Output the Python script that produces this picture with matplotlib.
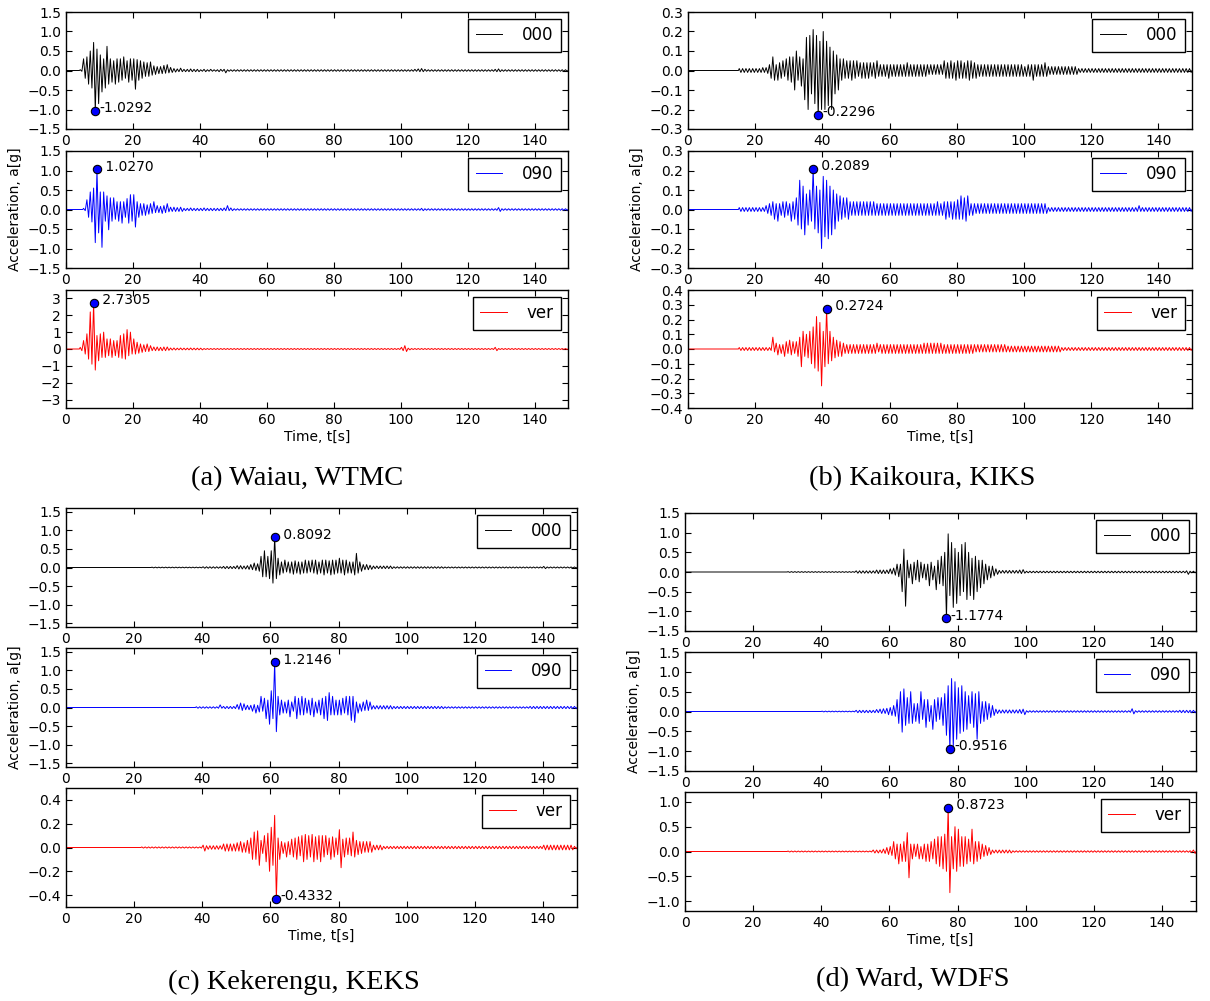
import matplotlib
matplotlib.use("Agg")
import matplotlib.pyplot as plt

# ---------------- data (per-second upper / lower extremes, g) ----------------
# Waiau, WTMC
a_000_t0 = 4
a_000_hi = [0.02, 0.30, 0.35, 0.50, 0.72, 0.55, 0.40, 0.30, 0.62, 0.30,
            0.25, 0.30, 0.30, 0.35, 0.25, 0.30, 0.30, 0.28, 0.25, 0.22,
            0.20, 0.22, 0.12, 0.10, 0.10, 0.13, 0.15, 0.08, 0.05, 0.04,
            0.06, 0.03, 0.03, 0.04, 0.03, 0.03, 0.02, 0.03, 0.02, 0.03,
            0.02, 0.02, 0.03, 0.03] + [0.02] * 56 + [0.03, 0.04, 0.05, 0.03] + [0.02] * 20 + [0.03, 0.04] + [0.02] * 20
a_000_lo = [-0.02, -0.20, -0.35, -0.45, -1.0292, -0.85, -0.55, -0.45, -0.35, -0.30,
            -0.35, -0.30, -0.25, -0.20, -0.30, -0.25, -0.48, -0.25, -0.20, -0.15,
            -0.15, -0.12, -0.10, -0.08, -0.08, -0.07, -0.06, -0.05, -0.04, -0.03,
            -0.03, -0.03, -0.03, -0.03, -0.03, -0.03, -0.02, -0.03, -0.02, -0.02,
            -0.02, -0.03, -0.02, -0.06] + [-0.02] * 56 + [-0.02, -0.03, -0.03, -0.02] + [-0.02] * 20 + [-0.03, -0.03] + [-0.02] * 20

a_090_t0 = 5
a_090_hi = [0.03, 0.25, 0.45, 0.55, 1.0270, 0.45, 0.45, 0.35, 0.30, 0.30,
            0.20, 0.20, 0.20, 0.28, 0.38, 0.38, 0.20, 0.15, 0.15, 0.12,
            0.15, 0.20, 0.10, 0.08, 0.10, 0.15, 0.06, 0.06, 0.05, 0.06,
            0.03, 0.03, 0.04, 0.03, 0.03, 0.03, 0.04, 0.03, 0.03, 0.03, 0.03, 0.03, 0.04,
            0.10, 0.04] + [0.02] * 56 + [0.03, 0.02] + [0.02] * 21 + [0.05] + [0.02] * 20
a_090_lo = [-0.03, -0.20, -0.32, -0.85, -0.60, -0.97, -0.30, -0.52, -0.30, -0.25,
            -0.30, -0.35, -0.20, -0.35, -0.30, -0.45, -0.20, -0.15, -0.15, -0.12,
            -0.10, -0.08, -0.08, -0.10, -0.08, -0.06, -0.05, -0.05, -0.05, -0.05,
            -0.03, -0.03, -0.03, -0.03, -0.03, -0.03, -0.03, -0.03, -0.03, -0.03, -0.03, -0.03, -0.03,
            -0.03, -0.03] + [-0.02] * 56 + [-0.03, -0.02] + [-0.02] * 21 + [-0.05] + [-0.02] * 20

a_ver_t0 = 4
a_ver_hi = [0.10, 0.50, 0.90, 2.20, 2.7305, 0.80, 0.90, 1.00, 0.60, 0.60,
            0.50, 0.50, 0.80, 0.90, 1.15, 1.00, 0.60, 0.40, 0.30, 0.25,
            0.30, 0.20, 0.12, 0.12, 0.10, 0.12, 0.12, 0.06, 0.06, 0.05,
            0.06, 0.05, 0.05, 0.06, 0.05, 0.05, 0.05] + [0.03] * 59 + [0.10, 0.20, 0.05] + [0.03] * 25 + [0.10] + [0.03] * 21
a_ver_lo = [-0.10, -0.30, -0.60, -0.90, -1.25, -0.70, -0.50, -0.50, -0.40, -0.50,
            -0.40, -0.50, -0.55, -0.60, -0.40, -0.30, -0.30, -0.25, -0.20, -0.15,
            -0.15, -0.10, -0.10, -0.10, -0.10, -0.10, -0.08, -0.06, -0.06, -0.05,
            -0.05, -0.05, -0.05, -0.05, -0.05, -0.05, -0.05] + [-0.03] * 59 + [-0.10, -0.15, -0.05] + [-0.03] * 25 + [-0.10] + [-0.03] * 21

# Kaikoura, KIKS
b_000_t0 = 15
b_000_hi = [0.01, 0.01, 0.01, 0.01, 0.01, 0.01, 0.01, 0.015,
            0.015, 0.03, 0.07, 0.03, 0.04, 0.05, 0.06, 0.07, 0.07, 0.10,
            0.07, 0.06, 0.17, 0.18, 0.21, 0.18, 0.15, 0.20, 0.15, 0.12,
            0.10, 0.08, 0.06, 0.06, 0.05, 0.05, 0.05, 0.05, 0.04, 0.04,
            0.04, 0.04, 0.04, 0.05, 0.03, 0.03, 0.03, 0.03, 0.03, 0.03,
            0.03, 0.03, 0.04, 0.03, 0.03, 0.03, 0.03, 0.03, 0.03, 0.03,
            0.03, 0.03, 0.03, 0.05, 0.04, 0.05, 0.04, 0.05, 0.05, 0.04,
            0.05, 0.05, 0.04] + [0.03] * 14 + [0.02, 0.03, 0.03, 0.03, 0.03, 0.03, 0.04] + [0.02] * 9 + [0.01] * 34
b_000_lo = [-0.01, -0.01, -0.01, -0.01, -0.01, -0.01, -0.01, -0.01,
            -0.015, -0.04, -0.05, -0.05, -0.04, -0.03, -0.05, -0.06, -0.10, -0.05,
            -0.08, -0.15, -0.20, -0.12, -0.17, -0.2296, -0.20, -0.20, -0.18, -0.20,
            -0.12, -0.10, -0.05, -0.04, -0.04, -0.05, -0.04, -0.03, -0.04, -0.04,
            -0.04, -0.03, -0.04, -0.03, -0.03, -0.03, -0.04, -0.03, -0.03, -0.03,
            -0.03, -0.03, -0.03, -0.03, -0.03, -0.03, -0.03, -0.03, -0.02, -0.02,
            -0.02, -0.02, -0.02, -0.04, -0.04, -0.04, -0.05, -0.04, -0.04, -0.04,
            -0.05, -0.04, -0.04] + [-0.03] * 14 + [-0.03, -0.03, -0.05, -0.03, -0.03, -0.03, -0.03] + [-0.02] * 9 + [-0.01] * 34

b_090_t0 = 15
b_090_hi = [0.01, 0.01, 0.01, 0.01, 0.01, 0.01, 0.01, 0.01,
            0.02, 0.03, 0.04, 0.03, 0.03, 0.04, 0.04, 0.03, 0.04, 0.06,
            0.15, 0.12, 0.08, 0.10, 0.2089, 0.12, 0.10, 0.17, 0.15, 0.12,
            0.10, 0.08, 0.07, 0.06, 0.06, 0.04, 0.04, 0.04, 0.04, 0.04,
            0.04, 0.04, 0.04, 0.03, 0.03, 0.03, 0.03, 0.03, 0.03, 0.03,
            0.03, 0.03, 0.03, 0.03, 0.03, 0.03, 0.03, 0.03, 0.03, 0.03,
            0.03, 0.04, 0.03, 0.04, 0.04, 0.04, 0.04, 0.05, 0.07, 0.06,
            0.07, 0.03] + [0.03] * 22 + [0.01] * 27 + [0.02] + [0.01] * 15
b_090_lo = [-0.01, -0.01, -0.01, -0.01, -0.01, -0.01, -0.01, -0.01,
            -0.02, -0.03, -0.05, -0.06, -0.03, -0.04, -0.03, -0.06, -0.05, -0.08,
            -0.10, -0.13, -0.08, -0.06, -0.10, -0.12, -0.20, -0.14, -0.15, -0.13,
            -0.10, -0.06, -0.05, -0.04, -0.05, -0.03, -0.03, -0.03, -0.03, -0.03,
            -0.03, -0.03, -0.03, -0.03, -0.03, -0.03, -0.03, -0.03, -0.03, -0.03,
            -0.03, -0.03, -0.03, -0.03, -0.03, -0.03, -0.03, -0.03, -0.03, -0.03,
            -0.03, -0.03, -0.03, -0.05, -0.04, -0.05, -0.05, -0.05, -0.05, -0.06,
            -0.03, -0.03] + [-0.02] * 22 + [-0.01] * 43

b_ver_t0 = 15
b_ver_hi = [0.01] * 10 + [0.08, 0.04, 0.03, 0.03, 0.05, 0.06, 0.05, 0.05, 0.08, 0.12,
            0.10, 0.12, 0.15, 0.22, 0.18, 0.12, 0.2724, 0.12, 0.08, 0.06,
            0.05, 0.04, 0.03] + [0.03] * 8 + [0.04] + [0.03] * 13 + [0.04] * 6 + [0.03] * 9 + [0.03] * 10 + [0.02] * 16 + [0.01] * 39
b_ver_lo = [-0.01] * 10 + [-0.02, -0.04, -0.03, -0.05, -0.03, -0.04, -0.03, -0.05, -0.12, -0.05,
            -0.06, -0.10, -0.13, -0.15, -0.25, -0.12, -0.10, -0.08, -0.06, -0.05,
            -0.05, -0.03, -0.03] + [-0.03] * 8 + [-0.02] + [-0.03] * 13 + [-0.03] * 6 + [-0.03] * 9 + [-0.02] * 10 + [-0.02] * 16 + [-0.01] * 39

# Kekerengu, KEKS
c_000_t0 = 25
c_000_hi = [0.01] * 15 + [0.02] * 6 + [0.03, 0.03, 0.03, 0.03,
            0.05, 0.05, 0.04, 0.05, 0.08, 0.12, 0.10, 0.30, 0.45, 0.30,
            0.45, 0.8092, 0.25, 0.15, 0.20, 0.15, 0.15, 0.18, 0.15, 0.15,
            0.20, 0.18, 0.20, 0.20, 0.15, 0.20, 0.20, 0.18, 0.20, 0.20,
            0.25, 0.20, 0.20, 0.15, 0.15, 0.38, 0.15, 0.08, 0.08, 0.06] + [0.04] * 6 + [0.02] * 15 + [0.015] * 29 + [0.03] + [0.015] * 9
c_000_lo = [-0.01] * 15 + [-0.02] * 6 + [-0.03, -0.03, -0.03, -0.03,
            -0.04, -0.04, -0.04, -0.05, -0.06, -0.08, -0.10, -0.25, -0.25, -0.30,
            -0.42, -0.30, -0.20, -0.15, -0.12, -0.15, -0.18, -0.15, -0.18, -0.15,
            -0.15, -0.12, -0.15, -0.18, -0.15, -0.20, -0.15, -0.20, -0.18, -0.15,
            -0.15, -0.20, -0.15, -0.15, -0.20, -0.15, -0.10, -0.06, -0.06, -0.05] + [-0.03] * 6 + [-0.02] * 15 + [-0.015] * 29 + [-0.03] + [-0.015] * 9

c_090_t0 = 38
c_090_hi = [0.02] * 7 + [0.07, 0.03, 0.03, 0.03, 0.03,
            0.08, 0.12, 0.10, 0.06, 0.06, 0.08, 0.06, 0.30, 0.25, 0.20,
            0.45, 1.2146, 0.30, 0.20, 0.15, 0.20, 0.15, 0.30, 0.25, 0.30,
            0.25, 0.20, 0.25, 0.15, 0.20, 0.25, 0.30, 0.40, 0.30, 0.20,
            0.20, 0.25, 0.30, 0.30, 0.30, 0.15, 0.10, 0.15, 0.20, 0.15] + [0.05] * 6 + [0.03] * 15 + [0.02] * 25 + [0.03] * 14
c_090_lo = [-0.02] * 7 + [-0.02, -0.03, -0.03, -0.03, -0.03,
            -0.05, -0.08, -0.06, -0.06, -0.10, -0.15, -0.12, -0.10, -0.30, -0.45,
            -0.30, -0.65, -0.20, -0.15, -0.15, -0.25, -0.10, -0.30, -0.20, -0.20,
            -0.15, -0.20, -0.25, -0.15, -0.20, -0.30, -0.35, -0.20, -0.20, -0.20,
            -0.20, -0.15, -0.20, -0.35, -0.40, -0.15, -0.10, -0.08, -0.08, -0.05] + [-0.04] * 6 + [-0.03] * 15 + [-0.02] * 25 + [-0.03] * 14

c_ver_t0 = 22
c_ver_hi = [0.005] * 18 + [0.02] + [0.015] * 5 + [0.03] * 4 + [
            0.04, 0.05, 0.04, 0.06, 0.08, 0.13, 0.14, 0.06, 0.10, 0.12,
            0.17, 0.27, 0.08, 0.05, 0.04, 0.05, 0.07, 0.08, 0.09, 0.10,
            0.11, 0.10, 0.11, 0.09, 0.10, 0.10, 0.10, 0.08, 0.09, 0.08,
            0.15, 0.07, 0.08, 0.08, 0.13, 0.06, 0.05, 0.05, 0.05, 0.05] + [0.02] * 3 + [0.01] * 47 + [0.02] * 9 + [0.01]
c_ver_lo = [-0.005] * 18 + [-0.03] + [-0.015] * 5 + [-0.03] * 4 + [
            -0.03, -0.04, -0.04, -0.05, -0.10, -0.10, -0.15, -0.05, -0.12, -0.20,
            -0.15, -0.4332, -0.10, -0.05, -0.08, -0.06, -0.08, -0.10, -0.07, -0.12,
            -0.10, -0.08, -0.12, -0.10, -0.12, -0.08, -0.06, -0.10, -0.08, -0.06,
            -0.17, -0.08, -0.06, -0.07, -0.08, -0.06, -0.05, -0.04, -0.04, -0.04] + [-0.02] * 3 + [-0.01] * 47 + [-0.02] * 9 + [-0.01]

# Ward, WDFS
d_000_t0 = 30
d_000_hi = [0.01] * 20 + [0.03] * 6 + [0.05, 0.05, 0.05, 0.05,
            0.08, 0.10, 0.20, 0.20, 0.58, 0.30, 0.20, 0.25, 0.30, 0.25,
            0.20, 0.20, 0.25, 0.15, 0.30, 0.40, 0.50, 0.97, 0.75, 0.60,
            0.50, 0.70, 0.75, 0.50, 0.35, 0.40, 0.30, 0.30, 0.20, 0.15,
            0.15, 0.08] + [0.04] * 6 + [0.05, 0.06] + [0.02] * 47 + [0.03, 0.02, 0.02]
d_000_lo = [-0.01] * 20 + [-0.03] * 6 + [-0.04, -0.04, -0.04, -0.04,
            -0.05, -0.08, -0.12, -0.50, -0.87, -0.15, -0.30, -0.20, -0.25, -0.15,
            -0.20, -0.35, -0.20, -0.45, -0.30, -0.35, -1.1774, -0.60, -0.90, -0.80,
            -0.60, -0.50, -0.70, -0.60, -0.70, -0.50, -0.40, -0.30, -0.20, -0.15,
            -0.10, -0.06] + [-0.03] * 6 + [-0.04, -0.03] + [-0.02] * 47 + [-0.06, -0.02, -0.02]

d_090_t0 = 40
d_090_hi = [0.01] * 10 + [0.03] * 6 + [0.05, 0.06, 0.07, 0.08,
            0.10, 0.15, 0.30, 0.50, 0.57, 0.35, 0.50, 0.20, 0.20, 0.50,
            0.30, 0.30, 0.15, 0.30, 0.35, 0.35, 0.45, 0.65, 0.83, 0.75,
            0.60, 0.65, 0.50, 0.40, 0.50, 0.45, 0.50, 0.25, 0.25, 0.20,
            0.15, 0.06] + [0.04] * 6 + [0.05, 0.06] + [0.02] * 31 + [0.07] + [0.02] * 13 + [0.03] * 5
d_090_lo = [-0.01] * 10 + [-0.03] * 6 + [-0.03, -0.05, -0.05, -0.08,
            -0.10, -0.12, -0.30, -0.52, -0.35, -0.30, -0.30, -0.25, -0.30, -0.20,
            -0.40, -0.25, -0.45, -0.25, -0.20, -0.35, -0.60, -0.9516, -0.90, -0.70,
            -0.55, -0.50, -0.45, -0.30, -0.40, -0.70, -0.30, -0.25, -0.20, -0.15,
            -0.10, -0.05] + [-0.04] * 6 + [-0.05, -0.08] + [-0.02] * 31 + [-0.06] + [-0.02] * 13 + [-0.03] * 5

d_ver_t0 = 30
d_ver_hi = [0.01] * 25 + [0.03] * 3 + [0.05, 0.08,
            0.10, 0.20, 0.15, 0.15, 0.20, 0.38, 0.15, 0.15, 0.15, 0.10,
            0.15, 0.15, 0.20, 0.25, 0.30, 0.30, 0.35, 0.8723, 0.30, 0.50,
            0.45, 0.30, 0.30, 0.25, 0.45, 0.20, 0.20, 0.15, 0.12, 0.08] + [0.03] * 6 + [0.015] * 53 + [0.03]
d_ver_lo = [-0.01] * 25 + [-0.03] * 3 + [-0.04, -0.06,
            -0.08, -0.15, -0.25, -0.20, -0.20, -0.53, -0.15, -0.10, -0.15, -0.15,
            -0.20, -0.20, -0.15, -0.25, -0.30, -0.35, -0.40, -0.83, -0.35, -0.40,
            -0.30, -0.30, -0.25, -0.20, -0.25, -0.20, -0.15, -0.10, -0.08, -0.06] + [-0.03] * 6 + [-0.015] * 53 + [-0.04]

components = ["000", "090", "ver"]
colors = ["black", "#0000ff", "#ff0000"]
captions = ["(a) Waiau, WTMC", "(b) Kaikoura, KIKS", "(c) Kekerengu, KEKS", "(d) Ward, WDFS"]
xticks = [0, 20, 40, 60, 80, 100, 120, 140]

a_ylims = [1.5, 1.5, 3.5]
a_yticks = [[-1.5, -1.0, -0.5, 0.0, 0.5, 1.0, 1.5], [-1.5, -1.0, -0.5, 0.0, 0.5, 1.0, 1.5], [-3, -2, -1, 0, 1, 2, 3]]
b_ylims = [0.3, 0.3, 0.4]
b_yticks = [[-0.3, -0.2, -0.1, 0.0, 0.1, 0.2, 0.3], [-0.3, -0.2, -0.1, 0.0, 0.1, 0.2, 0.3],
            [-0.4, -0.3, -0.2, -0.1, 0.0, 0.1, 0.2, 0.3, 0.4]]
c_ylims = [1.6, 1.6, 0.5]
c_yticks = [[-1.5, -1.0, -0.5, 0.0, 0.5, 1.0, 1.5], [-1.5, -1.0, -0.5, 0.0, 0.5, 1.0, 1.5], [-0.4, -0.2, 0.0, 0.2, 0.4]]
d_ylims = [1.5, 1.5, 1.2]
d_yticks = [[-1.5, -1.0, -0.5, 0.0, 0.5, 1.0, 1.5], [-1.5, -1.0, -0.5, 0.0, 0.5, 1.0, 1.5], [-1.0, -0.5, 0.0, 0.5, 1.0]]

# ---------------- styling ----------------
plt.rcParams.update({
    "font.family": "DejaVu Sans",
    "xtick.direction": "in", "ytick.direction": "in",
    "xtick.top": True, "ytick.right": True,
    "xtick.major.size": 4, "ytick.major.size": 4,
    "xtick.labelsize": 10, "ytick.labelsize": 10,
    "axes.linewidth": 1.0,
})

W, H = 1210, 1001
fig = plt.figure(figsize=(W / 100, H / 100), dpi=100)


def rect(l, t, r, b):
    return [l / W, 1 - b / H, (r - l) / W, (b - t) / H]


panels = [
    dict(x=(66, 568), rows=[(12, 129), (151, 268), (290, 408)],
         series=[(a_000_t0, a_000_hi, a_000_lo), (a_090_t0, a_090_hi, a_090_lo), (a_ver_t0, a_ver_hi, a_ver_lo)],
         ylims=a_ylims, yticks=a_yticks, cap=(297, 479)),
    dict(x=(688, 1192), rows=[(12, 129), (151, 268), (290, 408)],
         series=[(b_000_t0, b_000_hi, b_000_lo), (b_090_t0, b_090_hi, b_090_lo), (b_ver_t0, b_ver_hi, b_ver_lo)],
         ylims=b_ylims, yticks=b_yticks, cap=(922, 479)),
    dict(x=(66, 577), rows=[(508, 627), (648, 767), (788, 907)],
         series=[(c_000_t0, c_000_hi, c_000_lo), (c_090_t0, c_090_hi, c_090_lo), (c_ver_t0, c_ver_hi, c_ver_lo)],
         ylims=c_ylims, yticks=c_yticks, cap=(294, 982)),
    dict(x=(685, 1196), rows=[(513, 631), (652, 771), (792, 911)],
         series=[(d_000_t0, d_000_hi, d_000_lo), (d_090_t0, d_090_hi, d_090_lo), (d_ver_t0, d_ver_hi, d_ver_lo)],
         ylims=d_ylims, yticks=d_yticks, cap=(913, 980)),
]

for p, cap in zip(panels, captions):
    for k, ((top, bot), (t0, hi, lo)) in enumerate(zip(p["rows"], p["series"])):
        ax = fig.add_axes(rect(p["x"][0], top, p["x"][1], bot))
        xs, ys = [0.0, float(t0)], [0.0, 0.0]
        for i, (h, l) in enumerate(zip(hi, lo)):
            xs += [t0 + i + 0.25, t0 + i + 0.75]
            ys += [h, l]
        xs.append(150.0)
        ys.append(0.0)
        ax.plot(xs, ys, color=colors[k], lw=0.7, label=components[k])
        # peak marker
        j = max(range(len(ys)), key=lambda n: abs(ys[n]))
        ax.plot([xs[j]], [ys[j]], "o", color="#0000ff", mec="black", mew=0.8, ms=6, zorder=5)
        ax.annotate("{: .4f}".format(ys[j]), (xs[j], ys[j]), xytext=(3, 2),
                    textcoords="offset points", va="center", ha="left", fontsize=10)
        ax.set_xlim(0, 150)
        ax.set_ylim(-p["ylims"][k], p["ylims"][k])
        ax.set_xticks(xticks)
        ax.set_yticks(p["yticks"][k])
        ax.legend(loc="upper right", fontsize=12, fancybox=False, edgecolor="black",
                  framealpha=1, handlelength=1.6, handletextpad=1.2, borderpad=0.45,
                  borderaxespad=0.4)
        if k == 1:
            ax.set_ylabel("Acceleration, a[g]", fontsize=10)
        if k == 2:
            ax.set_xlabel("Time, t[s]", fontsize=10, labelpad=2)
    fig.text(p["cap"][0] / W, 1 - p["cap"][1] / H, cap, ha="center", va="center",
             family="Liberation Serif", fontsize=20.5)

fig.savefig("out.png", dpi=100)
